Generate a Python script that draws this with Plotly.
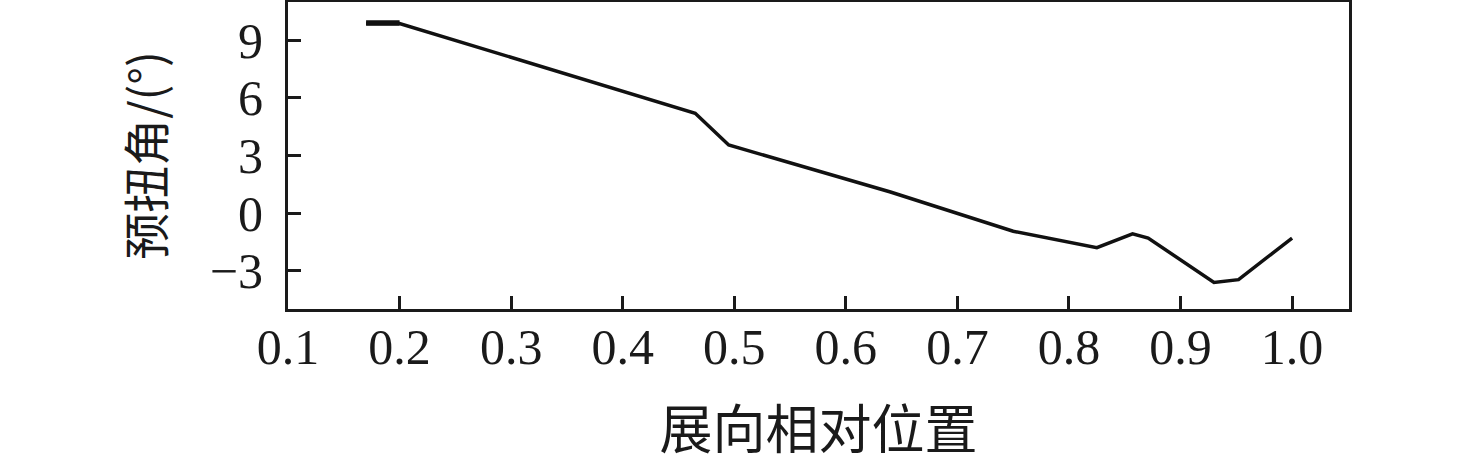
import plotly.graph_objects as go

# Data
span_pos = [0.17, 0.20, 0.465, 0.495, 0.64, 0.75, 0.825, 0.857, 0.871, 0.930, 0.952, 1.00]
twist_deg = [9.88, 9.88, 5.20, 3.55, 1.10, -0.95, -1.80, -1.08, -1.30, -3.62, -3.47, -1.30]

# short root segment drawn thicker in the reference
root_pos = [0.17, 0.20]
root_twist = [9.90, 9.90]

x_ticks = [0.1, 0.2, 0.3, 0.4, 0.5, 0.6, 0.7, 0.8, 0.9, 1.0]
x_ticklabels = ["0.1", "0.2", "0.3", "0.4", "0.5", "0.6", "0.7", "0.8", "0.9", "1.0"]
y_ticks = [-3, 0, 3, 6, 9]
y_ticklabels = ["\u22123", "0", "3", "6", "9"]

font_family = "Liberation Serif, Times New Roman, Noto Sans CJK SC, serif"

fig = go.Figure()
fig.add_trace(go.Scatter(x=span_pos, y=twist_deg, mode="lines",
                         line=dict(color="#111111", width=3.5), showlegend=False))
fig.add_trace(go.Scatter(x=root_pos, y=root_twist, mode="lines",
                         line=dict(color="#111111", width=5.5), showlegend=False))

axis_common = dict(showline=True, linecolor="#1a1a1a", linewidth=3, mirror=True,
                   ticks="inside", ticklen=13, tickwidth=3, tickcolor="#1a1a1a",
                   showgrid=False, zeroline=False, automargin=False,
                   tickfont=dict(family=font_family, size=50, color="#1a1a1a"))

fig.update_xaxes(range=[0.1, 1.051], tickvals=x_ticks, ticktext=x_ticklabels,
                 ticklabelstandoff=-8,
                 title=dict(text="展向相对位置", standoff=56,
                            font=dict(family="Noto Sans CJK SC", size=53, color="#1a1a1a")),
                 **axis_common)
fig.update_yaxes(range=[-5, 11], tickvals=y_ticks, ticktext=y_ticklabels,
                 ticklabelstandoff=12,
                 title=dict(text="预扭角/(°)", standoff=31,
                            font=dict(family="Noto Sans CJK SC", size=47, color="#1a1a1a")),
                 **axis_common)

fig.update_layout(width=1476, height=464,
                  margin=dict(l=288, r=127, t=2, b=155),
                  paper_bgcolor="white", plot_bgcolor="white")

fig.write_html("out.html",
               config={"displayModeBar": False},
               post_script="document.body.style.margin='0';document.body.style.overflow='hidden';")
